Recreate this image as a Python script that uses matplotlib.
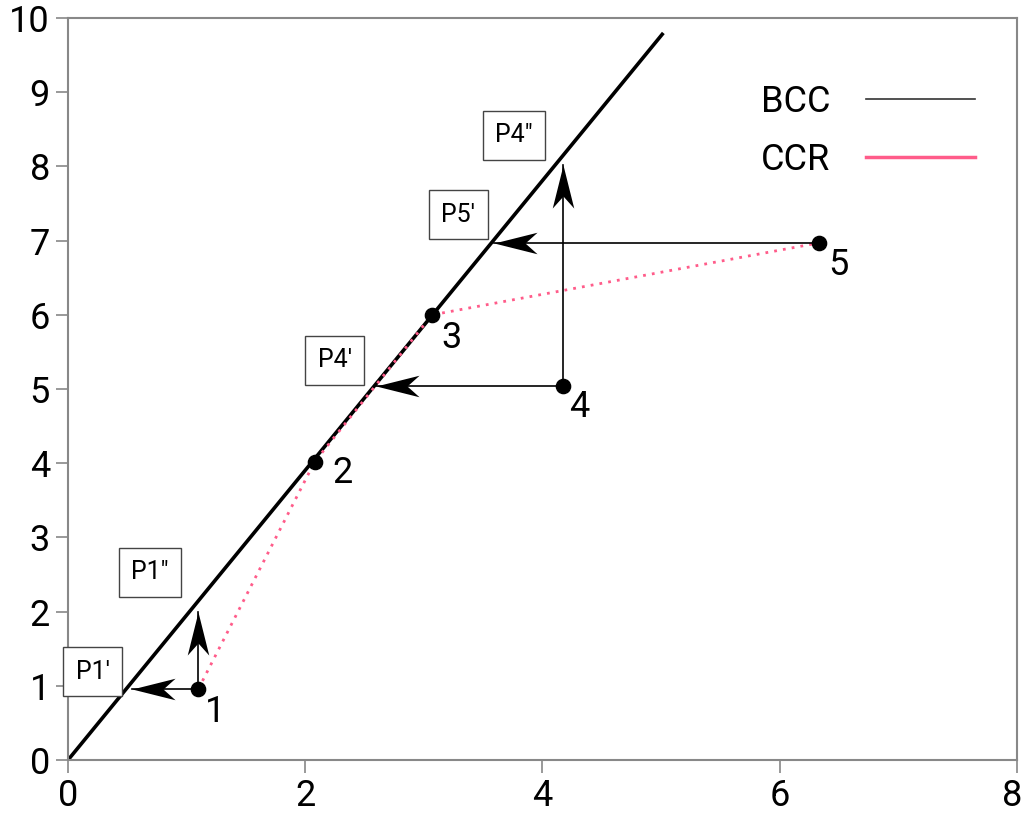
import numpy as np
import matplotlib
matplotlib.use("Agg")
import matplotlib.pyplot as plt
from matplotlib.path import Path
from matplotlib.lines import Line2D
from matplotlib.transforms import ScaledTranslation

plt.rcParams['font.family'] = ['Roboto', 'DejaVu Sans']
plt.rcParams['font.stretch'] = 'condensed'

# DMU points
pt_labels = ["1", "2", "3", "4", "5"]
pt_x = [1.10, 2.08, 3.07, 4.17, 6.33]
pt_y = [0.96, 4.02, 6.00, 5.04, 6.97]
# label offsets (points)
lab_dx = [12, 20, 14, 12, 14]
lab_dy = [-17, -8, -17, -15, -16]

# BCC frontier line
bcc_x = [0, 5.02]
bcc_y = [0, 9.80]

# CCR dotted path goes through 1, 2, 3, 5
ccr_idx = [0, 1, 2, 4]

# projection arrows: (start x, start y, end x, end y)
arr_x0 = [1.10, 1.10, 4.17, 4.17, 6.33]
arr_y0 = [0.96, 0.96, 5.04, 5.04, 6.97]
arr_x1 = [0.54, 1.10, 2.60, 4.17, 3.59]
arr_y1 = [0.96, 2.00, 5.04, 8.02, 6.97]

# boxed projection labels
box_text = ["P1\u2032", "P1\u2033", "P4\u2032", "P5\u2032", "P4\u2033"]
box_x = [0.21, 0.69, 2.25, 3.29, 3.76]
box_y = [1.19, 2.53, 5.39, 7.35, 8.42]

fig = plt.figure(figsize=(10.24, 8.23), dpi=100)
ax = fig.add_axes([0.0664, 0.0765, 0.9265, 0.9015])

ax.plot(bcc_x, bcc_y, color='black', lw=2.6, solid_capstyle='butt')
ax.plot([pt_x[i] for i in ccr_idx], [pt_y[i] for i in ccr_idx],
        color='#ff5c8a', lw=2, ls=(0, (1, 2.2)))

# stealth-like arrow head, pointing to -x with tip at origin
head = np.array([[0, 0], [1, 0.25], [0.72, 0], [1, -0.25], [0, 0]])
codes = [Path.MOVETO, Path.LINETO, Path.LINETO, Path.LINETO, Path.CLOSEPOLY]
for x0, y0, x1, y1 in zip(arr_x0, arr_y0, arr_x1, arr_y1):
    ax.plot([x0, x1], [y0, y1], color='black', lw=1.2)
    ang = np.arctan2(y1 - y0, x1 - x0) - np.pi
    rot = np.array([[np.cos(ang), -np.sin(ang)], [np.sin(ang), np.cos(ang)]])
    verts = head @ rot.T
    ax.plot([x1], [y1], marker=Path(verts, codes), markersize=62,
            color='black', markeredgewidth=0, zorder=5)

ax.scatter(pt_x, pt_y, s=105, color='black', zorder=6)
for lab, x, y, dx, dy in zip(pt_labels, pt_x, pt_y, lab_dx, lab_dy):
    ax.annotate(lab, (x, y), xytext=(dx, dy), textcoords='offset points',
                ha='center', va='center', fontsize=26)

for t, x, y in zip(box_text, box_x, box_y):
    ax.text(x, y, t, ha='center', va='center', fontsize=18,
            bbox=dict(boxstyle='square,pad=0.5', fc='white', ec='#444444', lw=1),
            zorder=7)

handles = [Line2D([], [], color='#333333', lw=1.2),
           Line2D([], [], color='#ff5c8a', lw=2.5)]
ax.legend(handles, ['BCC', 'CCR'], loc='upper right', bbox_to_anchor=(0.99, 0.955),
          frameon=False, markerfirst=False, fontsize=26, handlelength=3.0,
          handletextpad=1.0, labelspacing=0.6)

ax.set_xlim(0, 8)
ax.set_ylim(0, 10)
ax.set_xticks([0, 2, 4, 6, 8])
ax.set_yticks(range(0, 11))
ax.tick_params(direction='out', length=9, width=1.2, color='#888888',
               labelsize=26, pad=4)
for s in ax.spines.values():
    s.set_color('#888888')
    s.set_linewidth(1.5)

# nudge the last x label so it stays inside the figure
last = ax.get_xticklabels()[-1]
last.set_transform(last.get_transform() + ScaledTranslation(-5 / 100, 0, fig.dpi_scale_trans))

fig.savefig("out.png", dpi=100)
